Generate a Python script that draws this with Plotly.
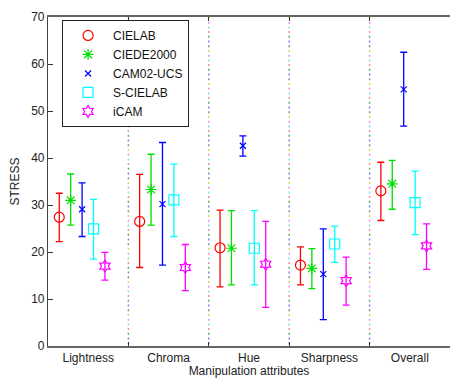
import plotly.graph_objects as go

categories = ["Lightness", "Chroma", "Hue", "Sharpness", "Overall"]
methods = ["CIELAB", "CIEDE2000", "CAM02-UCS", "S-CIELAB", "iCAM"]

# mean STRESS and upper/lower bounds of the error bars per method
cielab_mean = [27.4, 26.5, 20.9, 17.2, 33.0]
cielab_hi = [32.5, 36.5, 28.9, 21.1, 39.1]
cielab_lo = [22.2, 16.7, 12.6, 13.0, 26.7]

ciede2000_mean = [31.0, 33.3, 20.8, 16.5, 34.5]
ciede2000_hi = [36.6, 40.8, 28.8, 20.7, 39.5]
ciede2000_lo = [25.7, 25.7, 13.0, 12.2, 29.1]

cam02_mean = [29.1, 30.2, 42.6, 15.3, 54.6]
cam02_hi = [34.7, 43.3, 44.7, 24.9, 62.5]
cam02_lo = [23.3, 17.2, 40.4, 5.6, 46.8]

scielab_mean = [24.9, 31.1, 20.8, 21.7, 30.5]
scielab_hi = [31.2, 38.7, 28.8, 25.5, 37.2]
scielab_lo = [18.5, 23.3, 13.0, 17.8, 23.7]

icam_mean = [17.0, 16.7, 17.4, 13.9, 21.3]
icam_hi = [19.9, 21.6, 26.5, 18.9, 26.0]
icam_lo = [14.0, 11.8, 8.2, 8.7, 16.3]

means = [cielab_mean, ciede2000_mean, cam02_mean, scielab_mean, icam_mean]
his = [cielab_hi, ciede2000_hi, cam02_hi, scielab_hi, icam_hi]
los = [cielab_lo, ciede2000_lo, cam02_lo, scielab_lo, icam_lo]

colors = ["#ff0000", "#00e000", "#0000ff", "#00ffff", "#ff00ff"]
symbols = ["circle-open", "asterisk-open", "x-thin-open", "square-open", "hexagram-open"]
sizes = [10, 9, 6, 10, 9]

font = "Liberation Sans, Arial, sans-serif"

fig = go.Figure()
for k, m in enumerate(methods):
    off = -0.36 + 0.142 * k
    xs = [i + 1 + off for i in range(len(categories))]
    fig.add_trace(go.Scatter(
        x=xs, y=means[k], mode="markers", name=m,
        marker=dict(symbol=symbols[k], size=sizes[k], color=colors[k],
                    line=dict(color=colors[k], width=1.2)),
        error_y=dict(type="data", symmetric=False,
                     array=[h - v for h, v in zip(his[k], means[k])],
                     arrayminus=[v - l for l, v in zip(los[k], means[k])],
                     color=colors[k], thickness=1.3, width=3.5),
    ))

# multicolour dotted separators between groups
dot_colors = ["#d8d860", "#f090f0", "#80e0e0", "#f09090", "#60b060", "#8080f0", "#909090"]
shapes = []
for s in range(1, len(categories)):
    xsep = s + 0.5
    for j, c in enumerate(dot_colors):
        shapes.append(dict(type="line", xref="x", yref="y", x0=xsep, x1=xsep,
                           y0=70 - j, y1=0, layer="below",
                           line=dict(color=c, width=1.5, dash="2px,31px")))

fig.update_layout(
    width=450, height=378,
    margin=dict(l=48, r=0, t=17, b=32),
    paper_bgcolor="white", plot_bgcolor="white",
    font=dict(family=font, size=12, color="#222"),
    showlegend=True,
    legend=dict(x=0.035, y=0.991, xanchor="left", yanchor="top",
                bordercolor="#222", borderwidth=1, bgcolor="white",
                itemwidth=40, entrywidth=80,
                font=dict(size=12, color="#111"), tracegroupgap=0),
    shapes=shapes,
    xaxis=dict(range=[0.5, 5.5], tickmode="array", automargin=False,
               tickvals=[1, 2, 3, 4, 5], ticktext=categories,
               ticks="", showgrid=False, zeroline=False,
               showline=True, linecolor="#666", linewidth=1.5, mirror="ticks",
               minor=dict(tickvals=[1.5, 2.5, 3.5, 4.5], ticks="inside",
                          ticklen=4, tickcolor="#333", showgrid=False),
               title=dict(text="Manipulation attributes", standoff=2,
                          font=dict(size=12, color="#222"))),
    yaxis=dict(range=[0, 70], tickmode="array", automargin=False,
               tickvals=[0, 10, 20, 30, 40, 50, 60, 70],
               ticks="inside", ticklen=5, tickcolor="#333",
               showgrid=False, zeroline=False,
               showline=True, linecolor="#444", linewidth=1.2,
               title=dict(text="STRESS", standoff=8,
                          font=dict(size=12, color="#222"))),
)

fig.write_html("out.html", config={"displayModeBar": False},
               post_script="document.body.style.margin='0';document.body.style.overflow='hidden';")
